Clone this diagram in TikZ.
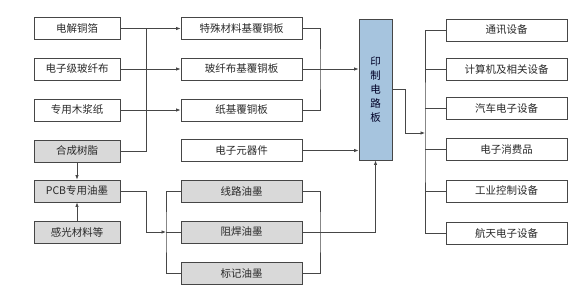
\documentclass[tikz,border=0pt]{standalone}
\usepackage{fontspec}
\usepackage{xcolor}
\usepackage{tikz}
\usetikzlibrary{arrows.meta,positioning,calc}
\newfontfamily\cjk{Noto Sans CJK SC}
\definecolor{linegray}{RGB}{70,70,70}
\definecolor{boxgray}{RGB}{217,217,217}
\definecolor{pcbblue}{RGB}{166,196,222}
\definecolor{txtdark}{RGB}{40,40,40}
\tikzset{
  box/.style={draw=linegray,line width=0.9pt,minimum height=22pt,inner sep=0pt,
    font=\cjk\fontsize{10.5}{12}\selectfont,text=txtdark},
  lbox/.style={box,minimum width=86pt},
  mbox/.style={box,minimum width=121pt},
  rbox/.style={box,minimum width=121pt},
  graybox/.style={fill=boxgray},
  conn/.style={draw=linegray,line width=0.7pt},
  arr/.style={conn,-{Latex[length=4.5pt,width=3.5pt]}}
}
\begin{document}
\begin{tikzpicture}[x=1pt,y=-1pt]
  \useasboundingbox (0,0) rectangle (585,303);
  % raw materials
  \node[lbox] (l1) at (77,28.5) {电解铜箔};
  \node[lbox] (l2) at (77,69) {电子级玻纤布};
  \node[lbox] (l3) at (77,110) {专用木浆纸};
  \node[lbox,graybox] (l4) at (77,151) {合成树脂};
  \node[lbox,graybox] (l5) at (77,191) {PCB专用油墨};
  \node[lbox,graybox] (l6) at (77,232) {感光材料等};
  % intermediate products
  \node[mbox] (m1) at (241.5,28.5) {特殊材料基覆铜板};
  \node[mbox] (m2) at (241.5,69) {玻纤布基覆铜板};
  \node[mbox] (m3) at (241.5,110) {纸基覆铜板};
  \node[mbox] (m4) at (241.5,150.5) {电子元器件};
  \node[mbox,graybox] (m5) at (241.5,191) {线路油墨};
  \node[mbox,graybox] (m6) at (241.5,232) {阻焊油墨};
  \node[mbox,graybox] (m7) at (241.5,273) {标记油墨};
  % printed circuit board
  \node[box,fill=pcbblue,minimum width=33pt,minimum height=141pt,align=center,
    text=black!75!blue!60!black,font=\cjk\fontsize{10.5}{14}\selectfont] (pcb) at (375.5,89.5)
    {印\\制\\电\\路\\板};
  % applications
  \node[rbox] (r1) at (506.5,30) {通讯设备};
  \node[rbox] (r2) at (506.5,69) {计算机及相关设备};
  \node[rbox] (r3) at (506.5,108) {汽车电子设备};
  \node[rbox] (r4) at (506.5,149) {电子消费品};
  \node[rbox] (r5) at (506.5,191) {工业控制设备};
  \node[rbox] (r6) at (506.5,233.5) {航天电子设备};
  % junction points
  \coordinate (jl) at (146,28.5);
  \coordinate (jm) at (320,69);
  \coordinate (ji) at (320,232);
  \coordinate (kb) at (146,232);
  \coordinate (ka) at (166,232);
  \coordinate (rb) at (405,133);
  \coordinate (ra) at (425,133);
  % upper left block
  \draw[arr] (l1.east) -- (m1.west);
  \draw[arr] (l2.east) -- (m2.west);
  \draw[arr] (l3.east) -- (m3.west);
  \draw[conn] (l4.east) -| (jl);
  \draw[arr] (l4.south) -- (l5.north);
  \draw[arr] (l6.north) -- (l5.south);
  % ink block
  \draw[arr] (l5.east) -| (kb) -- (ka);
  \draw[conn] (m5.west) -| (ka) |- (m7.west);
  \draw[conn] (ka) -- (m6.west);
  % into the board
  \draw[conn] (m1.east) -| (jm) |- (m3.east);
  \draw[arr] (m2.east) -- (m2.east -| pcb.west);
  \draw[arr] (m4.east) -- (m4.east -| pcb.west);
  \draw[conn] (m5.east) -| (ji) |- (m7.east);
  \draw[arr] (m6.east) -| (pcb.south);
  % out to the applications
  \draw[arr] (pcb.east) -| (rb) -- (ra);
  \draw[conn] (r1.west) -| (ra) |- (r6.west);
  \foreach \r in {r2,r3,r4,r5} {
    \draw[conn] (\r.west) -- (\r.west -| ra);
  }
\end{tikzpicture}
\end{document}
